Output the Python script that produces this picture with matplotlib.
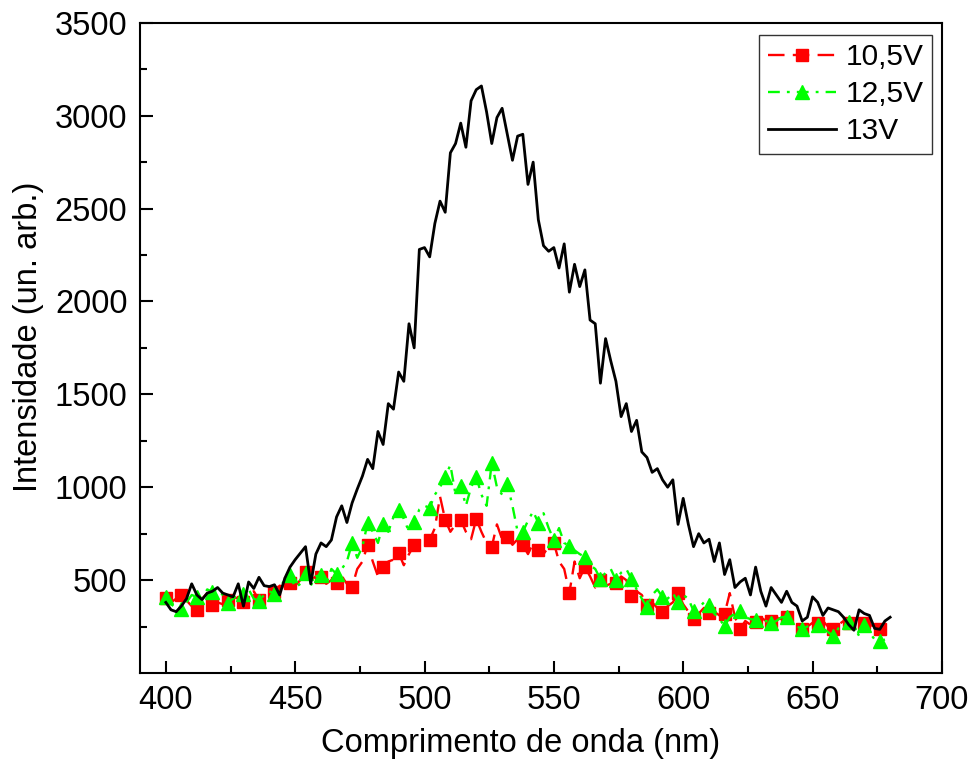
import numpy as np
import matplotlib
matplotlib.use('Agg')
import matplotlib.pyplot as plt
from matplotlib.ticker import MultipleLocator, FixedLocator

plt.rcParams['font.family'] = ['Liberation Sans', 'DejaVu Sans']

# 13V, every 2 nm from 400 nm
black_13v = [
    380, 340, 330, 360, 400, 480, 420, 395, 430, 440,
    460, 430, 420, 410, 480, 360, 490, 455, 515, 470,
    465, 475, 420, 510, 570, 610, 645, 680, 480, 640,
    700, 680, 716, 840, 900, 810, 915, 990, 1060, 1150,
    1100, 1300, 1230, 1450, 1420, 1620, 1570, 1880, 1750, 2280,
    2290, 2240, 2420, 2540, 2480, 2800, 2850, 2960, 2830, 3080,
    3140, 3160, 3020, 2850, 2990, 3040, 2900, 2760, 2890, 2900,
    2630, 2750, 2440, 2300, 2270, 2290, 2180, 2310, 2050, 2200,
    2080, 2170, 1900, 1880, 1560, 1800, 1680, 1570, 1380, 1450,
    1300, 1360, 1190, 1160, 1080, 1100, 1040, 1000, 1040, 800,
    940, 800, 680, 750, 700, 720, 600, 700, 530, 610,
    460, 490, 510, 420, 570, 440, 360, 460, 420, 380,
    440, 380, 360, 280, 300, 410, 380, 310, 350, 340,
    330, 300, 260, 230, 340, 320, 310, 240, 235, 280,
    300,
]

# 10,5V, every 2 nm from 400 nm (markers every 6 nm)
red_105v = [
    405, 380, 400, 420, 390, 360, 340, 400, 430, 366, 380, 370,
    393, 410, 400, 382, 420, 440, 393, 410, 430, 436, 470, 460,
    485, 470, 500, 544, 500, 520, 517, 480, 500, 485, 520, 480,
    463, 560, 600, 689, 600, 520, 571, 600, 610, 646, 580, 640,
    689, 700, 720, 716, 780, 950, 824, 760, 800, 824, 760, 720,
    829, 760, 700, 679, 800, 720, 732, 690, 720, 689, 640, 700,
    662, 640, 680, 700, 600, 560, 431, 600, 510, 571, 520, 460,
    501, 470, 480, 485, 520, 500, 415, 440, 420, 366, 380, 350,
    328, 360, 380, 431, 370, 330, 291, 320, 350, 323, 330, 310,
    318, 430, 300, 237, 280, 260, 275, 300, 280, 280, 300, 290,
    302, 280, 260, 237, 250, 270, 269, 280, 250, 237, 260, 280,
    269, 250, 260, 269, 260, 250, 237, 240,
]

# 12,5V, every 2 nm from 400 nm (markers every 6 nm)
green_125v = [
    409, 370, 350, 345, 380, 420, 409, 400, 450, 436, 450, 420,
    377, 400, 420, 425, 450, 400, 388, 420, 440, 425, 460, 500,
    528, 460, 480, 538, 470, 520, 528, 480, 560, 533, 560, 600,
    700, 620, 680, 808, 760, 700, 802, 760, 840, 878, 830, 760,
    813, 880, 900, 889, 960, 1000, 1056, 1120, 960, 1007, 900, 1000,
    1056, 960, 900, 1131, 1000, 960, 1018, 900, 760, 759, 820, 870,
    808, 860, 780, 716, 780, 700, 684, 660, 640, 625, 580, 560,
    506, 540, 560, 501, 540, 560, 506, 450, 400, 355, 420, 450,
    409, 400, 430, 382, 420, 400, 334, 350, 380, 366, 320, 290,
    253, 300, 320, 334, 300, 290, 285, 270, 280, 269, 280, 300,
    302, 270, 250, 237, 250, 260, 258, 240, 220, 199, 240, 260,
    275, 250, 200, 258, 220, 180, 172, 180,
]

wl = np.arange(400, 400 + 2 * len(black_13v), 2)

fig = plt.figure(figsize=(9.72, 7.6), dpi=100)
ax = fig.add_axes([0.144, 0.1145, 0.825, 0.8555])

ax.plot(wl[:len(red_105v)], red_105v, color='#ff0000', lw=1.7,
        ls=(0, (7, 3.5)), marker='s', ms=8, markevery=3,
        mec='#ff0000', label='10,5V')
ax.plot(wl[:len(green_125v)], green_125v, color='#00ff00', lw=1.7,
        ls=(0, (5, 3, 1.2, 3)), marker='^', ms=9.5, markevery=3,
        mec='#00ff00', label='12,5V')
ax.plot(wl, black_13v, color='black', lw=2.0, label='13V')

ax.set_xlim(390, 700)
ax.set_ylim(0, 3500)
ax.xaxis.set_major_locator(MultipleLocator(50))
ax.xaxis.set_minor_locator(MultipleLocator(25))
ax.yaxis.set_major_locator(FixedLocator(np.arange(500, 3501, 500)))
ax.yaxis.set_minor_locator(FixedLocator(np.arange(250, 3500, 500)))

fs = 23.5
ax.tick_params(which='both', direction='in', width=1.5, top=False, right=False)
ax.tick_params(which='major', length=9, labelsize=fs, pad=9)
ax.tick_params(which='minor', length=5)
for s in ax.spines.values():
    s.set_linewidth(1.5)

ax.set_xlabel('Comprimento de onda (nm)', fontsize=fs)
ax.xaxis.set_label_coords(0.474, -0.085)
ax.set_ylabel('Intensidade (un. arb.)', fontsize=fs)
ax.yaxis.set_label_coords(-0.12, 0.517)

leg = ax.legend(loc='upper right', bbox_to_anchor=(0.988, 0.982), fontsize=21.5,
                frameon=True, fancybox=False, edgecolor='black', numpoints=1,
                handlelength=2.3, handletextpad=0.3, labelspacing=0.3,
                borderpad=0.3, borderaxespad=0)
leg.get_frame().set_linewidth(1.0)

fig.savefig('out.png', dpi=100)
